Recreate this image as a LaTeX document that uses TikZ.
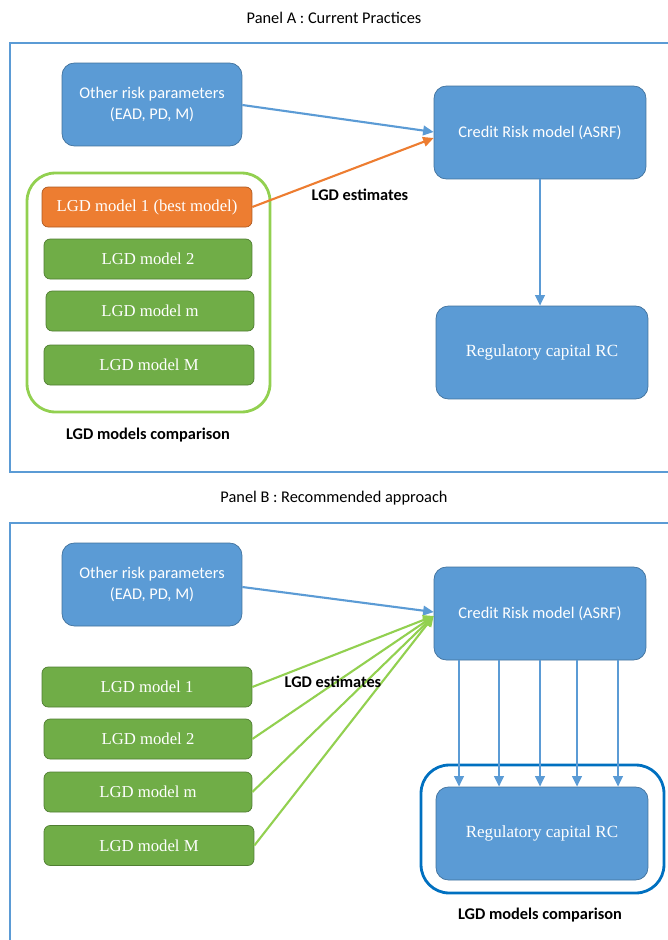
\documentclass[tikz,border=0pt]{standalone}
\usepackage{fontspec}
\setmainfont{Carlito}
\newfontfamily\serifbox{Liberation Serif}
\usetikzlibrary{arrows.meta}
\definecolor{boxblue}{HTML}{5B9BD5}
\definecolor{edgeblue}{HTML}{41719C}
\definecolor{boxgreen}{HTML}{70AD47}
\definecolor{edgegreen}{HTML}{507E32}
\definecolor{boxorange}{HTML}{ED7D31}
\definecolor{edgeorange}{HTML}{AE5A21}
\definecolor{lightgreen}{HTML}{92D050}
\definecolor{deepblue}{HTML}{0070C0}
\tikzset{
	bluebox/.style={draw=edgeblue, fill=boxblue, rounded corners=7pt, text=white, align=center, inner sep=0pt, font=\fontsize{9.3}{11.5}\selectfont},
	capbox/.style={bluebox, font=\serifbox\fontsize{9.7}{11.5}\selectfont},
	lgdbox/.style={draw=edgegreen, fill=boxgreen, rounded corners=3.5pt, text=white, inner sep=0pt, minimum height=0.8cm, font=\serifbox\fontsize{9.5}{11}\selectfont},
	bestbox/.style={lgdbox, draw=edgeorange, fill=boxorange},
	groupbox/.style={rounded corners=16pt, line width=1.6pt, inner sep=0pt},
	boldlabel/.style={font=\bfseries\fontsize{9.3}{11}\selectfont},
	feed/.style={line width=1.2pt, -{Triangle[width=5.5pt,length=6pt]}}
}
\begin{document}
\begin{tikzpicture}[x=0.02cm, y=-0.02cm]
		%%%%% START %%%%%
		\useasboundingbox (0,0) rectangle (668,940);
		\clip (0,0) rectangle (668,940);
		
		%% panel A
		\node (titleA) at (334,18) {\fontsize{9.3}{11}\selectfont Panel A : Current Practices};
		\draw[draw=boxblue, line width=0.7pt] (10,43) rectangle (700,472);
		
		\node[bluebox, minimum width=3.6cm, minimum height=1.66cm] (paramsA) at (152,104.5) {Other risk parameters\\(EAD, PD, M)};
		\node[bluebox, minimum width=4.24cm, minimum height=1.86cm] (creditA) at (540,132.5) {Credit Risk model (ASRF)};
		\node[capbox, minimum width=4.24cm, minimum height=1.86cm] (capitalA) at (542,352.5) {Regulatory capital RC};
		
		\node[groupbox, draw=lightgreen, minimum width=4.86cm, minimum height=4.78cm] (groupA) at (148.5,292.5) {};
		\node[bestbox, minimum width=4.2cm] (lgdA1) at (147,207) {LGD model 1 (best model)};
		\node[lgdbox, minimum width=4.16cm] (lgdA2) at (148,259) {LGD model 2};
		\node[lgdbox, minimum width=4.16cm] (lgdAm) at (150,311) {LGD model m};
		\node[lgdbox, minimum width=4.2cm] (lgdAM) at (149,365) {LGD model M};
		\node[boldlabel] (compA) at (148,435) {LGD models comparison};
		\node[boldlabel] (estA) at (360,195) {LGD estimates};
		
		\draw[feed, boxblue] (paramsA.east |- 0,105) -- (creditA.west |- 0,132);
		\draw[feed, boxorange] (lgdA1.east) -- (creditA.west |- 0,138);
		\draw[feed, boxblue] (creditA.south) -- (capitalA.north -| creditA.south);
		
		%% panel B
		\node (titleB) at (334,498) {\fontsize{9.3}{11}\selectfont Panel B : Recommended approach};
		\draw[draw=boxblue, line width=0.7pt] (10,523) rectangle (700,980);
		
		\node[bluebox, minimum width=3.6cm, minimum height=1.66cm] (paramsB) at (152,584.5) {Other risk parameters\\(EAD, PD, M)};
		\node[bluebox, minimum width=4.24cm, minimum height=1.86cm] (creditB) at (540,613.5) {Credit Risk model (ASRF)};
		\node[groupbox, draw=deepblue, minimum width=4.86cm, minimum height=2.56cm] (groupB) at (542.5,829) {};
		\node[capbox, minimum width=4.24cm, minimum height=1.86cm] (capitalB) at (542,833.5) {Regulatory capital RC};
		\node[boldlabel] (compB) at (540,915) {LGD models comparison};
		
		\node[lgdbox, minimum width=4.2cm] (lgdB1) at (147,687) {LGD model 1};
		\node[lgdbox, minimum width=4.16cm] (lgdB2) at (148,739) {LGD model 2};
		\node[lgdbox, minimum width=4.16cm] (lgdBm) at (148,792) {LGD model m};
		\node[lgdbox, minimum width=4.2cm] (lgdBM) at (149,845.5) {LGD model M};
		
		\draw[feed, boxblue] (paramsB.east |- 0,587) -- (creditB.west |- 0,612);
		\foreach \m in {lgdB1,lgdB2,lgdBm,lgdBM}
			\draw[feed, lightgreen] (\m.east) -- (creditB.west |- 0,616);
		\foreach \x in {459,499,540,577,618}
			\draw[feed, boxblue] (creditB.south -| \x,0) -- (capitalB.north -| \x,0);
		\node[boldlabel] (estB) at (333,682) {LGD estimates};
		
		%%%%% END %%%%%
\end{tikzpicture}
\end{document}
